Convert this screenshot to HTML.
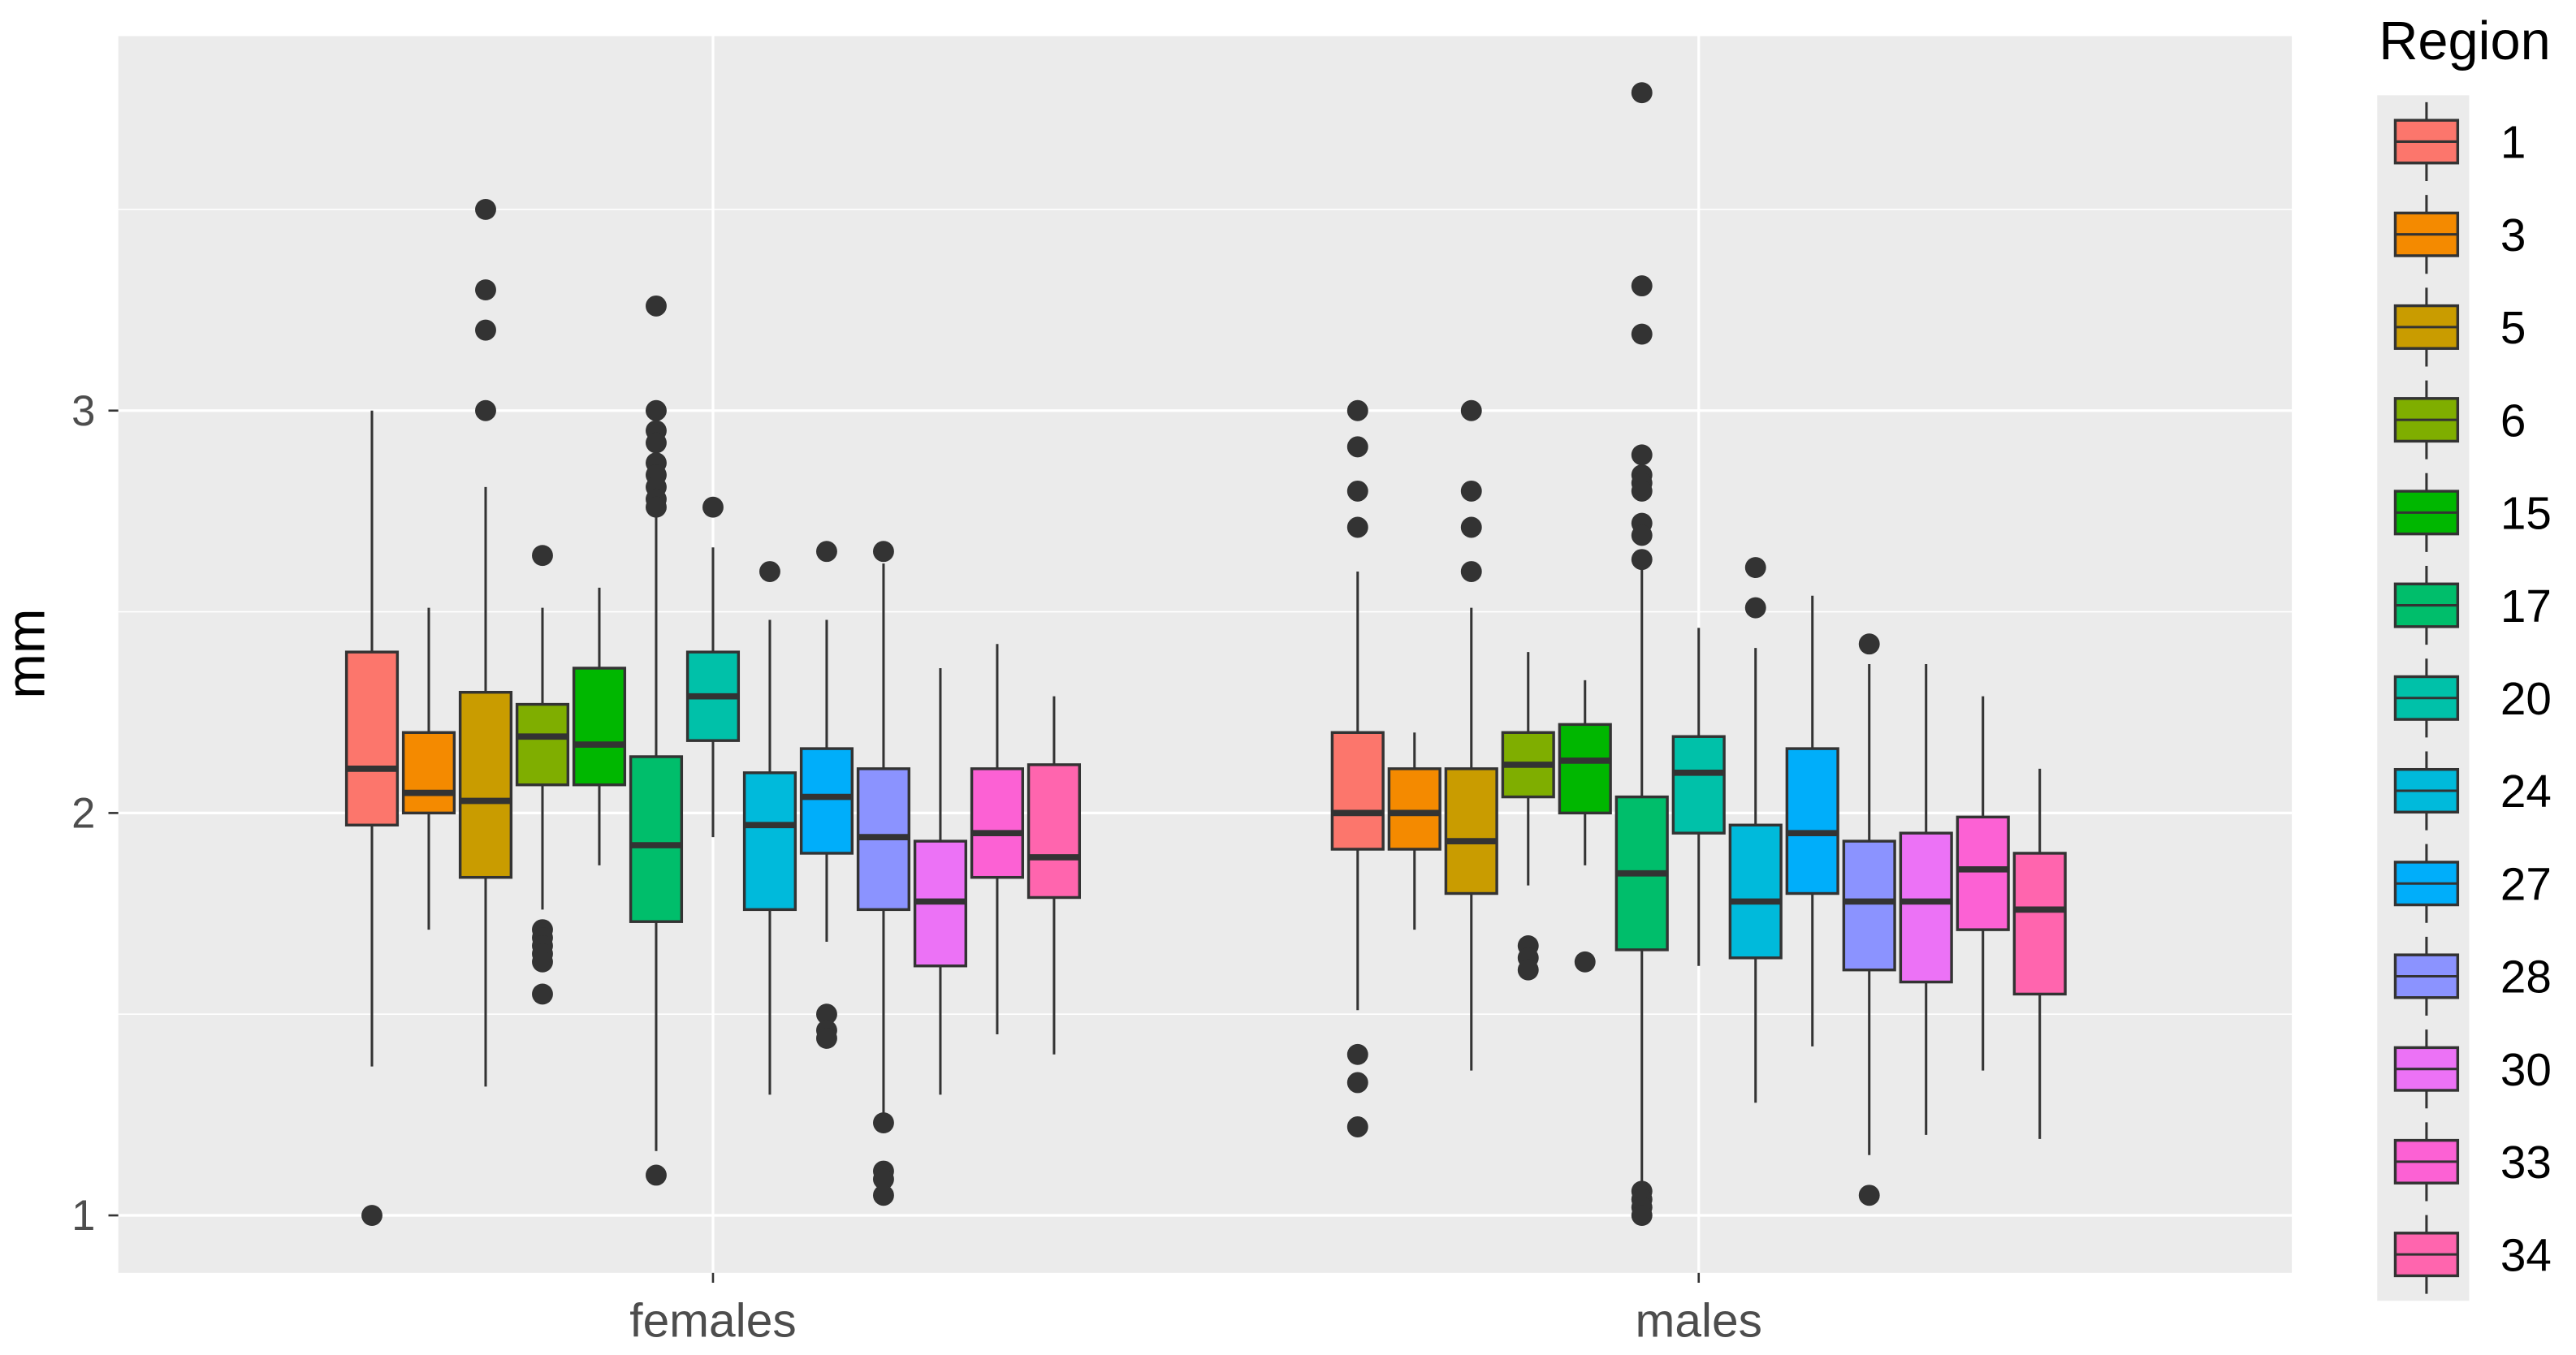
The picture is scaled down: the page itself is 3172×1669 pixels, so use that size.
<!DOCTYPE html>
<html><head><meta charset="utf-8"><style>
html,body{margin:0;padding:0;background:#fff}
svg{display:block}
text{font-family:"Liberation Sans",Arial,sans-serif}
</style></head><body>
<svg id="chart" width="3172" height="1669" viewBox="0 0 1568 825" preserveAspectRatio="none" xmlns="http://www.w3.org/2000/svg">
<rect x="72" y="22" width="1323" height="753" fill="#EBEBEB"/>
<g id="grid"></g>
<g id="boxes"></g>
<g id="axes"></g>
<g id="legend"></g>
</svg>
<script>
const groups = ["females","males"];
const regions = ["1","3","5","6","15","17","20","24","27","28","30","33","34"];
const colors = ["#FC766C","#F48A00","#C99C00","#7FAE00","#00B700","#00BE6B","#00C1A9","#00BADB","#00AEFA","#8B93FF","#EC72F6","#FC61D4","#FF65AE"];
const yTicks = [1,2,3];
// [lowerWhisker, q1, median, q3, upperWhisker]
const femalesStats = [
 [1.37,1.97,2.11,2.40,3.00],[1.71,2.00,2.05,2.20,2.51],[1.32,1.84,2.03,2.30,2.81],
 [1.76,2.07,2.19,2.27,2.51],[1.87,2.07,2.17,2.36,2.56],[1.16,1.73,1.92,2.14,2.75],
 [1.94,2.18,2.29,2.40,2.66],[1.30,1.76,1.97,2.10,2.48],[1.68,1.90,2.04,2.16,2.48],
 [1.25,1.76,1.94,2.11,2.62],[1.30,1.62,1.78,1.93,2.36],[1.45,1.84,1.95,2.11,2.42],
 [1.40,1.79,1.89,2.12,2.29]];
const femalesOutliers = [
 [1.0],[],[3.5,3.3,3.2,3.0],[2.64,1.71,1.69,1.67,1.65,1.63,1.55],[],
 [3.26,3.0,2.95,2.92,2.87,2.84,2.81,2.78,2.76,1.1],[2.76],[2.60],[2.65,1.5,1.46,1.44],
 [2.65,1.23,1.11,1.09,1.05],[],[],[]];
const malesStats = [
 [1.51,1.91,2.00,2.20,2.60],[1.71,1.91,2.00,2.11,2.20],[1.36,1.80,1.93,2.11,2.51],
 [1.82,2.04,2.12,2.20,2.40],[1.87,2.00,2.13,2.22,2.33],[1.07,1.66,1.85,2.04,2.61],
 [1.62,1.95,2.10,2.19,2.46],[1.28,1.64,1.78,1.97,2.41],[1.42,1.80,1.95,2.16,2.54],
 [1.15,1.61,1.78,1.93,2.37],[1.20,1.58,1.78,1.95,2.37],[1.36,1.71,1.86,1.99,2.29],
 [1.19,1.55,1.76,1.90,2.11]];
const malesOutliers = [
 [3.0,2.91,2.80,2.71,1.40,1.33,1.22],[],[3.0,2.80,2.71,2.60],[1.67,1.64,1.61],[1.63],
 [3.79,3.31,3.19,2.89,2.84,2.82,2.80,2.72,2.69,2.63,1.06,1.04,1.02,1.0],[],[2.61,2.51],[],
 [2.42,1.05],[],[],[]];

const NS="http://www.w3.org/2000/svg";
function mk(tag,attrs,parent){const e=document.createElementNS(NS,tag);for(const k in attrs)e.setAttribute(k,attrs[k]);parent.appendChild(e);return e;}
const y = v => 740 - (v-1)*245;
const groupX = i => 434 + i*600;
const slot = 34.6;
const xPos = (g,r) => groupX(g) + (r-(regions.length-1)/2)*slot;
const bw = 31;

const grid=document.getElementById('grid');
[1.5,2.5,3.5].forEach(v=>{
 const l=mk('line',{x1:72,x2:1395,y1:y(v),y2:y(v),stroke:'#fff','stroke-width':0.8},grid);
 
 
});
yTicks.forEach(v=>{
 const l=mk('line',{x1:72,x2:1395,y1:y(v),y2:y(v),stroke:'#fff','stroke-width':1.6},grid);
 
 
});
groups.forEach((g,i)=>{
 const l=mk('line',{x1:groupX(i),x2:groupX(i),y1:22,y2:775,stroke:'#fff','stroke-width':1.6},grid);
 
 
});

const boxes=document.getElementById('boxes');
const allStats=[femalesStats,malesStats], allOut=[femalesOutliers,malesOutliers];
groups.forEach((g,gi)=>{
 regions.forEach((r,ri)=>{
  const s=allStats[gi][ri], cx=xPos(gi,ri);
  const grp=mk('g',{},boxes);
  
  
  mk('line',{x1:cx,x2:cx,y1:y(s[4]),y2:y(s[3]),stroke:'#333','stroke-width':1.5},grp);
  mk('line',{x1:cx,x2:cx,y1:y(s[1]),y2:y(s[0]),stroke:'#333','stroke-width':1.5},grp);
  mk('rect',{x:cx-bw/2,y:y(s[3]),width:bw,height:y(s[1])-y(s[3]),fill:colors[ri],stroke:'#333','stroke-width':1.7},grp);
  mk('line',{x1:cx-bw/2,x2:cx+bw/2,y1:y(s[2]),y2:y(s[2]),stroke:'#333','stroke-width':3.8},grp);
  allOut[gi][ri].forEach(v=>{
   const c=mk('circle',{cx:cx,cy:y(v),r:6.4,fill:'#333'},boxes);
   
   
  });
 });
});

const axes=document.getElementById('axes');
yTicks.forEach(v=>{
 mk('line',{x1:66,x2:72,y1:y(v),y2:y(v),stroke:'#333','stroke-width':1.3},axes);
 const t=mk('text',{x:58,y:y(v)+9,'text-anchor':'end','font-size':26,fill:'#4D4D4D'},axes);
 t.textContent=v;
 
 
});
groups.forEach((g,i)=>{
 mk('line',{x1:groupX(i),x2:groupX(i),y1:775,y2:781,stroke:'#333','stroke-width':1.3},axes);
 const t=mk('text',{x:groupX(i),y:814,'text-anchor':'middle','font-size':29,fill:'#4D4D4D'},axes);
 t.textContent=g;
 
 
});
const yt=mk('text',{x:0,y:0,transform:'translate(27,398) rotate(-90)','text-anchor':'middle','font-size':33,fill:'#000'},axes);
yt.textContent='mm';



const leg=document.getElementById('legend');
const lt=mk('text',{x:1448,y:36,'font-size':33,fill:'#000'},leg);
lt.textContent='Region';


mk('rect',{x:1447,y:58,width:56,height:734,fill:'#EBEBEB'},leg);
const keyH=734/regions.length;
regions.forEach((r,i)=>{
 const cy=58+keyH*(i+0.5);
 const e=mk('g',{},leg);
 
 
 mk('line',{x1:1477,x2:1477,y1:cy-24,y2:cy+24,stroke:'#333','stroke-width':1.5},e);
 mk('rect',{x:1458,y:cy-13,width:38,height:26,fill:colors[i],stroke:'#333','stroke-width':1.7},e);
 mk('line',{x1:1458,x2:1496,y1:cy,y2:cy,stroke:'#333','stroke-width':1.5},e);
 const t=mk('text',{x:1522,y:cy+10,'font-size':28,fill:'#000'},e);
 t.textContent=r;
});
</script>
</body></html>
